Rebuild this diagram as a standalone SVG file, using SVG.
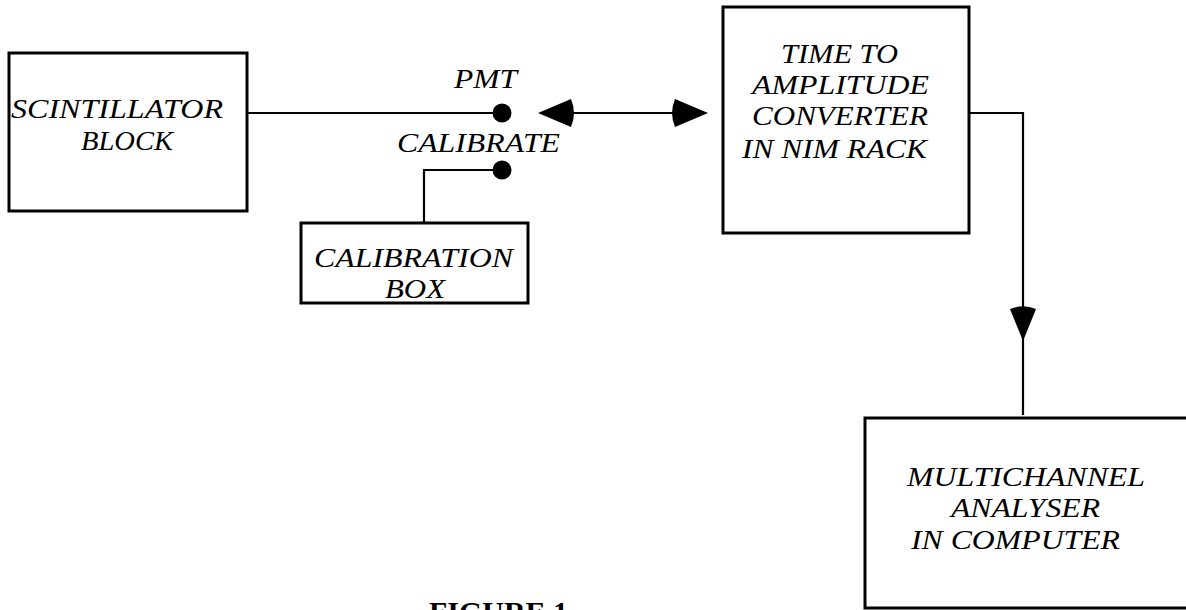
<svg xmlns="http://www.w3.org/2000/svg" width="1186" height="610" viewBox="0 0 1186 610">
<style>
.box{fill:#fff;stroke:#000;stroke-width:3}
.t{font-family:"Liberation Serif","Times New Roman",serif;font-style:italic;font-size:28px;fill:#000}
.w{fill:none;stroke:#000;stroke-width:2.2}
.ah{fill:#000;stroke:none}
.fig{font-family:"Liberation Serif","Times New Roman",serif;font-weight:bold;font-size:29px;fill:#000}
</style>
<rect width="1186" height="610" fill="#fff"/>
<g id="connectors">
<polyline class="w" points="247,113 502,113"/>
<polyline class="w" points="502,170 424,170 424,222"/>
<line class="w" x1="560" y1="113" x2="690" y2="113"/>
<polyline class="w" points="969,113 1023,113 1023,415"/>
<circle class="ah" cx="502" cy="113" r="9.5"/>
<circle class="ah" cx="502" cy="170" r="9.5"/>
<path class="ah" d="M538,113 L571,99 A36,36 0 0 1 571,127 Z"/>
<path class="ah" d="M708,113 L675,127 A36,36 0 0 1 675,99 Z"/>
<path class="ah" d="M1023,341 L1010,309 A34.5,34.5 0 0 1 1036,309 Z"/>
</g>
<g id="scintillator">
<rect class="box" x="9" y="53" width="238" height="158"/>
<text class="t" x="11" y="118" textLength="212" lengthAdjust="spacingAndGlyphs">SCINTILLATOR</text>
<text class="t" x="81" y="150" textLength="92" lengthAdjust="spacingAndGlyphs">BLOCK</text>
</g>
<g id="pmt-label"><text class="t" x="454" y="88" textLength="63" lengthAdjust="spacingAndGlyphs">PMT</text></g>
<g id="calibrate-label"><text class="t" x="397" y="152" textLength="163" lengthAdjust="spacingAndGlyphs">CALIBRATE</text></g>
<g id="calibration-box">
<rect class="box" x="301" y="223" width="227" height="80"/>
<text class="t" x="314" y="267" textLength="199" lengthAdjust="spacingAndGlyphs">CALIBRATION</text>
<text class="t" x="385" y="298" textLength="60" lengthAdjust="spacingAndGlyphs">BOX</text>
</g>
<g id="tac">
<rect class="box" x="723" y="7" width="246" height="226"/>
<text class="t" x="781" y="63" textLength="117" lengthAdjust="spacingAndGlyphs">TIME TO</text>
<text class="t" x="752" y="94" textLength="177" lengthAdjust="spacingAndGlyphs">AMPLITUDE</text>
<text class="t" x="752" y="125" textLength="176" lengthAdjust="spacingAndGlyphs">CONVERTER</text>
<text class="t" x="742" y="158" textLength="185" lengthAdjust="spacingAndGlyphs">IN NIM RACK</text>
</g>
<g id="mca">
<rect class="box" x="865" y="418" width="330" height="190"/>
<text class="t" x="907" y="486" textLength="238" lengthAdjust="spacingAndGlyphs">MULTICHANNEL</text>
<text class="t" x="951" y="517" textLength="149" lengthAdjust="spacingAndGlyphs">ANALYSER</text>
<text class="t" x="911" y="549" textLength="209" lengthAdjust="spacingAndGlyphs">IN COMPUTER</text>
</g>
<g id="caption"><text class="fig" x="429" y="622" textLength="139" lengthAdjust="spacingAndGlyphs">FIGURE 1</text></g>
</svg>
